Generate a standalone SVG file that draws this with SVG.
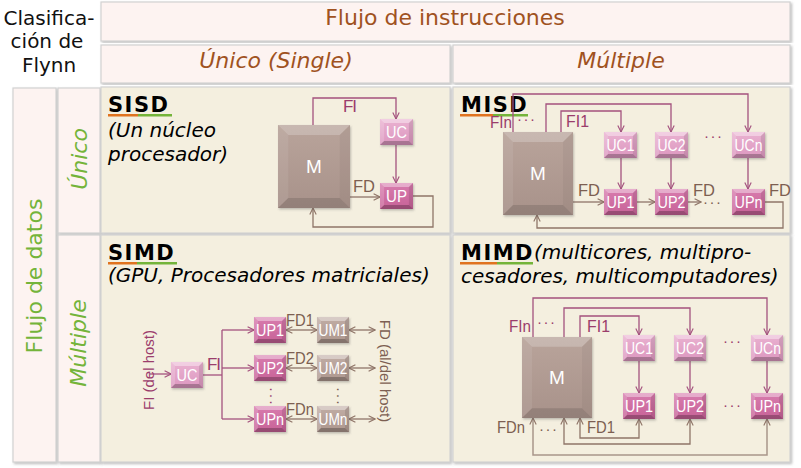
<svg xmlns="http://www.w3.org/2000/svg" xmlns:xlink="http://www.w3.org/1999/xlink" width="801" height="468" viewBox="0 0 801 468">
<style>
.cellH{fill:#fdf3f1;stroke:#d2d2d2;stroke-width:1.2}
.cellB{fill:#f4efdf;stroke:#d2d2d2;stroke-width:1.2}
.hdr{font-family:"DejaVu Sans",Verdana,sans-serif;font-size:22px;fill:#a0521f;text-anchor:middle}
.hdrI{font-style:italic}
.side{font-family:"DejaVu Sans",Verdana,sans-serif;font-size:22px;fill:#74b43a;text-anchor:middle}
.corner{font-family:"DejaVu Sans",Verdana,sans-serif;font-size:20px;fill:#111;text-anchor:middle}
.ttl{font-family:"DejaVu Sans",Verdana,sans-serif;font-size:21px;font-weight:bold;fill:#000;letter-spacing:1.5px}
.desc{font-family:"DejaVu Sans",Verdana,sans-serif;font-size:20px;font-style:italic;fill:#000}
.m{fill:url(#gM)}
.uc{fill:url(#gUC)}
.up{fill:url(#gUP)}
.um{fill:url(#gUM)}
.node rect{filter:url(#sh)}
.bt{font-family:"Liberation Sans",Arial,sans-serif;font-size:17px;fill:#fff;text-anchor:middle}
.mt{font-family:"Liberation Sans",Arial,sans-serif;font-size:19px;fill:#fff;text-anchor:middle}
.lab{font-family:"Liberation Sans",Arial,sans-serif;font-size:17px}
.dots{font-family:"Liberation Sans",Arial,sans-serif;font-size:15px;letter-spacing:1.5px}
.rot{font-size:15px}
.fi{fill:#9b3d6c}
.fd{fill:#7d5f52}
.ci{fill:none;stroke:#a4527e;stroke-width:1.3}
.cd{fill:none;stroke:#8f7568;stroke-width:1.3}
.cdl{fill:none;stroke:#a8968b;stroke-width:1.5}
.ai{marker-end:url(#am)}
.ad{marker-end:url(#ab)}
.a2{marker-start:url(#ab);marker-end:url(#ab)}
</style>
<defs>
<filter id="sh" x="-20%" y="-20%" width="150%" height="150%"><feDropShadow dx="1" dy="1.5" stdDeviation="1" flood-color="#555" flood-opacity="0.35"/></filter>
<filter id="shc" x="-5%" y="-5%" width="110%" height="110%"><feDropShadow dx="1.5" dy="1.5" stdDeviation="0.8" flood-color="#888" flood-opacity="0.55"/></filter>
<linearGradient id="gM" x1="0" y1="0" x2="0" y2="1"><stop offset="0" stop-color="#b9a49b"/><stop offset="1" stop-color="#a8928a"/></linearGradient>
<linearGradient id="gUC" x1="0" y1="0" x2="0" y2="1"><stop offset="0" stop-color="#eab2d1"/><stop offset="1" stop-color="#dc97bf"/></linearGradient>
<linearGradient id="gUP" x1="0" y1="0" x2="0" y2="1"><stop offset="0" stop-color="#d87cae"/><stop offset="1" stop-color="#c76297"/></linearGradient>
<linearGradient id="gUM" x1="0" y1="0" x2="0" y2="1"><stop offset="0" stop-color="#c1ada5"/><stop offset="1" stop-color="#ad978e"/></linearGradient>
<symbol id="bv" viewBox="0 0 32 26" preserveAspectRatio="none">
<polygon points="0,0 32,0 28,4 4,4" fill="#fff" fill-opacity=".38"/>
<polygon points="0,0 4,4 4,22 0,26" fill="#fff" fill-opacity=".18"/>
<polygon points="32,0 32,26 28,22 28,4" fill="#000" fill-opacity=".1"/>
<polygon points="0,26 4,22 28,22 32,26" fill="#000" fill-opacity=".24"/>
</symbol>
<symbol id="bvM" viewBox="0 0 70 83" preserveAspectRatio="none">
<polygon points="0,0 70,0 60,10 10,10" fill="#fff" fill-opacity=".22"/>
<polygon points="0,0 10,10 10,73 0,83" fill="#fff" fill-opacity=".08"/>
<polygon points="70,0 70,83 60,73 60,10" fill="#000" fill-opacity=".04"/>
<polygon points="0,83 10,73 60,73 70,83" fill="#000" fill-opacity=".12"/>
</symbol>
<marker id="am" viewBox="0 0 10 10" refX="9" refY="5" markerWidth="8" markerHeight="8" markerUnits="userSpaceOnUse" orient="auto-start-reverse"><path d="M1,1 L9,5 L1,9" fill="none" stroke="#a4527e" stroke-width="1.4"/></marker>
<marker id="ab" viewBox="0 0 10 10" refX="9" refY="5" markerWidth="8" markerHeight="8" markerUnits="userSpaceOnUse" orient="auto-start-reverse"><path d="M1,1 L9,5 L1,9" fill="none" stroke="#8f7568" stroke-width="1.4"/></marker>
</defs>

<rect width="801" height="468" fill="#fff"/>

<g id="table">
<rect class="cellH" x="101" y="2" width="689" height="39" filter="url(#shc)"/>
<rect class="cellH" x="101" y="45" width="349" height="38" filter="url(#shc)"/>
<rect class="cellH" x="453" y="45" width="337" height="38" filter="url(#shc)"/>
<rect class="cellH" x="13" y="88" width="43" height="374" filter="url(#shc)"/>
<rect class="cellH" x="58" y="88" width="42" height="145" filter="url(#shc)"/>
<rect class="cellH" x="58" y="235" width="42" height="227" filter="url(#shc)"/>
<rect class="cellB" x="101" y="87" width="349" height="146" filter="url(#shc)"/>
<rect class="cellB" x="453" y="87" width="337" height="146" filter="url(#shc)"/>
<rect class="cellB" x="101" y="235" width="349" height="227" filter="url(#shc)"/>
<rect class="cellB" x="453" y="235" width="337" height="227" filter="url(#shc)"/>
<text class="corner" x="49" y="25">Clasifica-</text>
<text class="corner" x="47" y="48">ción de</text>
<text class="corner" x="49" y="72">Flynn</text>
<text class="hdr" x="445" y="25">Flujo de instrucciones</text>
<text class="hdr hdrI" x="276" y="68">Único (Single)</text>
<text class="hdr hdrI" x="621" y="68">Múltiple</text>
<text class="side" transform="translate(42,276) rotate(-90)">Flujo de datos</text>
<text class="side hdrI" transform="translate(87,159) rotate(-90)">Único</text>
<text class="side hdrI" transform="translate(86,343) rotate(-90)">Múltiple</text>
</g>

<g id="titles">
<text class="ttl" x="108" y="112">SISD</text>
<rect x="108" y="114" width="30" height="2.5" fill="#e0731f"/><rect x="138" y="114" width="34" height="2.5" fill="#74b43a"/>
<text class="desc" x="108" y="137">(Un núcleo</text>
<text class="desc" x="108" y="161">procesador)</text>
<text class="ttl" x="461" y="112">MISD</text>
<rect x="460" y="114" width="33" height="2.5" fill="#e0731f"/><rect x="493" y="114" width="35" height="2.5" fill="#74b43a"/>
<text class="ttl" x="108" y="260">SIMD</text>
<rect x="108" y="262" width="29" height="2.5" fill="#e0731f"/><rect x="137" y="262" width="40" height="2.5" fill="#74b43a"/>
<text class="desc" x="108" y="282">(GPU, Procesadores matriciales)</text>
<text class="ttl" x="461" y="260">MIMD</text>
<rect x="460" y="262" width="37" height="2.5" fill="#e0731f"/><rect x="497" y="262" width="36" height="2.5" fill="#74b43a"/>
<text class="desc" x="534" y="259">(multicores, multipro-</text>
<text class="desc" x="461" y="283">cesadores, multicomputadores)</text>
</g>

<g id="connectors">
<path class="ci ai" d="M313,125 V98 H396 V119"/>
<path class="ci ai" d="M396,145 V183"/>
<path class="cd ad" d="M350,197 H380"/>
<path class="cd ad" d="M413,196 H433 V227 H313 V208"/>
<path class="ci ai" d="M513,132 V94 H748 V132"/>
<path class="ci ai" d="M546,132 V104 H671 V132"/>
<path class="ci ai" d="M561,132 V111 H621 V132"/>
<path class="ci ai" d="M621,158 V189"/>
<path class="ci ai" d="M671,158 V189"/>
<path class="ci ai" d="M748,158 V189"/>
<path class="cd ad" d="M573,202 H604"/>
<path class="cd ad" d="M637,202 H655"/>
<path class="cd ad" d="M688,202 H701"/>
<path class="cd ad" d="M765,202 H783 V228 H537 V215"/>
<path class="ci ai" d="M150,374 H171"/>
<path class="ci" d="M203,375 H222"/>
<path class="ci" d="M222,330 V419"/>
<path class="ci ai" d="M222,330 H254"/>
<path class="ci ai" d="M222,368 H254"/>
<path class="ci ai" d="M222,419 H254"/>
<path class="cd a2" d="M286,330 H317"/>
<path class="cd a2" d="M286,368 H317"/>
<path class="cd a2" d="M286,419 H317"/>
<path class="cd a2" d="M349,330 H375"/>
<path class="cd a2" d="M349,368 H375"/>
<path class="cd a2" d="M349,419 H375"/>
<path class="ci ai" d="M533,337 V298 H767 V335"/>
<path class="ci ai" d="M564,337 V308 H690 V335"/>
<path class="ci ai" d="M580,337 V316 H639 V335"/>
<path class="ci ai" d="M639,361 V393"/>
<path class="ci ai" d="M690,361 V393"/>
<path class="ci ai" d="M767,361 V393"/>
<path class="cd a2" d="M639,419 V438 H580 V418"/>
<path class="cd a2" d="M690,419 V444 H564 V418"/>
<path class="cdl a2" d="M767,419 V455 H533 V418"/>
</g>

<g id="labels">
<text class="lab fi" x="343" y="112" textLength="14" lengthAdjust="spacing">FI</text>
<text class="lab fd" x="353" y="192" textLength="22" lengthAdjust="spacingAndGlyphs">FD</text>
<text class="lab fi" x="490" y="128" textLength="22" lengthAdjust="spacingAndGlyphs">FIn</text>
<text class="dots fi" x="517" y="124">···</text>
<text class="lab fi" x="566" y="127" textLength="23" lengthAdjust="spacingAndGlyphs">FI1</text>
<text class="lab fd" x="578" y="196" textLength="22" lengthAdjust="spacingAndGlyphs">FD</text>
<text class="lab fd" x="693" y="196" textLength="22" lengthAdjust="spacingAndGlyphs">FD</text>
<text class="dots fd" x="703" y="207">···</text>
<text class="lab fd" x="769" y="196" textLength="22" lengthAdjust="spacingAndGlyphs">FD</text>
<text class="dots fi" x="704" y="141">···</text>
<text class="lab fi" x="207" y="370" textLength="14" lengthAdjust="spacing">FI</text>
<text class="lab fi rot" transform="translate(154,370) rotate(-90)" text-anchor="middle">FI (del host)</text>
<text class="lab fd" x="286" y="326" textLength="28" lengthAdjust="spacingAndGlyphs">FD1</text>
<text class="lab fd" x="286" y="364" textLength="28" lengthAdjust="spacingAndGlyphs">FD2</text>
<text class="lab fd" x="286" y="415" textLength="28" lengthAdjust="spacingAndGlyphs">FDn</text>
<text class="lab fd rot" transform="translate(380,371) rotate(90)" text-anchor="middle">FD (al/del host)</text>
<text class="dots fi" transform="translate(267,387) rotate(90)">···</text>
<text class="dots fd" transform="translate(334,387) rotate(90)">···</text>
<text class="lab fi" x="509" y="332" textLength="22" lengthAdjust="spacingAndGlyphs">FIn</text>
<text class="dots fi" x="537" y="327">···</text>
<text class="lab fi" x="587" y="332" textLength="23" lengthAdjust="spacingAndGlyphs">FI1</text>
<text class="dots fi" x="723" y="346">···</text>
<text class="dots fi" x="723" y="410">···</text>
<text class="lab fd" x="497" y="433" textLength="28" lengthAdjust="spacingAndGlyphs">FDn</text>
<text class="dots fd" x="539" y="434">···</text>
<text class="lab fd" x="587" y="433" textLength="28" lengthAdjust="spacingAndGlyphs">FD1</text>
</g>

<g id="sisd-M" class="node"><rect class="m" x="278" y="125" width="72" height="83"/><use href="#bvM" x="278" y="125" width="72" height="83"/><text class="mt" x="314" y="173">M</text></g>
<g id="sisd-UC" class="node"><rect class="uc" x="380" y="119" width="33" height="26"/><use href="#bv" x="380" y="119" width="33" height="26"/><text class="bt" x="396.5" y="138" textLength="21" lengthAdjust="spacingAndGlyphs">UC</text></g>
<g id="sisd-UP" class="node"><rect class="up" x="380" y="183" width="33" height="26"/><use href="#bv" x="380" y="183" width="33" height="26"/><text class="bt" x="396.5" y="202" textLength="21" lengthAdjust="spacingAndGlyphs">UP</text></g>

<g id="misd-M" class="node"><rect class="m" x="503" y="132" width="70" height="83"/><use href="#bvM" x="503" y="132" width="70" height="83"/><text class="mt" x="538" y="180">M</text></g>
<g id="misd-UC1" class="node"><rect class="uc" x="604" y="132" width="33" height="26"/><use href="#bv" x="604" y="132" width="33" height="26"/><text class="bt" x="620.5" y="151" textLength="28" lengthAdjust="spacingAndGlyphs">UC1</text></g>
<g id="misd-UC2" class="node"><rect class="uc" x="655" y="132" width="33" height="26"/><use href="#bv" x="655" y="132" width="33" height="26"/><text class="bt" x="671.5" y="151" textLength="28" lengthAdjust="spacingAndGlyphs">UC2</text></g>
<g id="misd-UCn" class="node"><rect class="uc" x="732" y="132" width="33" height="26"/><use href="#bv" x="732" y="132" width="33" height="26"/><text class="bt" x="748.5" y="151" textLength="28" lengthAdjust="spacingAndGlyphs">UCn</text></g>
<g id="misd-UP1" class="node"><rect class="up" x="604" y="189" width="33" height="26"/><use href="#bv" x="604" y="189" width="33" height="26"/><text class="bt" x="620.5" y="208" textLength="28" lengthAdjust="spacingAndGlyphs">UP1</text></g>
<g id="misd-UP2" class="node"><rect class="up" x="655" y="189" width="33" height="26"/><use href="#bv" x="655" y="189" width="33" height="26"/><text class="bt" x="671.5" y="208" textLength="28" lengthAdjust="spacingAndGlyphs">UP2</text></g>
<g id="misd-UPn" class="node"><rect class="up" x="732" y="189" width="33" height="26"/><use href="#bv" x="732" y="189" width="33" height="26"/><text class="bt" x="748.5" y="208" textLength="28" lengthAdjust="spacingAndGlyphs">UPn</text></g>

<g id="simd-UC" class="node"><rect class="uc" x="171" y="362" width="32" height="26"/><use href="#bv" x="171" y="362" width="32" height="26"/><text class="bt" x="187" y="381" textLength="21" lengthAdjust="spacingAndGlyphs">UC</text></g>
<g id="simd-UP1" class="node"><rect class="up" x="254" y="317" width="32" height="26"/><use href="#bv" x="254" y="317" width="32" height="26"/><text class="bt" x="270" y="336" textLength="28" lengthAdjust="spacingAndGlyphs">UP1</text></g>
<g id="simd-UP2" class="node"><rect class="up" x="254" y="355" width="32" height="26"/><use href="#bv" x="254" y="355" width="32" height="26"/><text class="bt" x="270" y="374" textLength="28" lengthAdjust="spacingAndGlyphs">UP2</text></g>
<g id="simd-UPn" class="node"><rect class="up" x="254" y="406" width="32" height="26"/><use href="#bv" x="254" y="406" width="32" height="26"/><text class="bt" x="270" y="425" textLength="28" lengthAdjust="spacingAndGlyphs">UPn</text></g>
<g id="simd-UM1" class="node"><rect class="um" x="317" y="317" width="32" height="26"/><use href="#bv" x="317" y="317" width="32" height="26"/><text class="bt" x="333" y="336" textLength="29" lengthAdjust="spacingAndGlyphs">UM1</text></g>
<g id="simd-UM2" class="node"><rect class="um" x="317" y="355" width="32" height="26"/><use href="#bv" x="317" y="355" width="32" height="26"/><text class="bt" x="333" y="374" textLength="29" lengthAdjust="spacingAndGlyphs">UM2</text></g>
<g id="simd-UMn" class="node"><rect class="um" x="317" y="406" width="32" height="26"/><use href="#bv" x="317" y="406" width="32" height="26"/><text class="bt" x="333" y="425" textLength="29" lengthAdjust="spacingAndGlyphs">UMn</text></g>

<g id="mimd-M" class="node"><rect class="m" x="522" y="337" width="70" height="81"/><use href="#bvM" x="522" y="337" width="70" height="81"/><text class="mt" x="557" y="384">M</text></g>
<g id="mimd-UC1" class="node"><rect class="uc" x="623" y="335" width="32" height="26"/><use href="#bv" x="623" y="335" width="32" height="26"/><text class="bt" x="639" y="354" textLength="28" lengthAdjust="spacingAndGlyphs">UC1</text></g>
<g id="mimd-UC2" class="node"><rect class="uc" x="674" y="335" width="32" height="26"/><use href="#bv" x="674" y="335" width="32" height="26"/><text class="bt" x="690" y="354" textLength="28" lengthAdjust="spacingAndGlyphs">UC2</text></g>
<g id="mimd-UCn" class="node"><rect class="uc" x="751" y="335" width="32" height="26"/><use href="#bv" x="751" y="335" width="32" height="26"/><text class="bt" x="767" y="354" textLength="28" lengthAdjust="spacingAndGlyphs">UCn</text></g>
<g id="mimd-UP1" class="node"><rect class="up" x="623" y="393" width="32" height="26"/><use href="#bv" x="623" y="393" width="32" height="26"/><text class="bt" x="639" y="412" textLength="28" lengthAdjust="spacingAndGlyphs">UP1</text></g>
<g id="mimd-UP2" class="node"><rect class="up" x="674" y="393" width="32" height="26"/><use href="#bv" x="674" y="393" width="32" height="26"/><text class="bt" x="690" y="412" textLength="28" lengthAdjust="spacingAndGlyphs">UP2</text></g>
<g id="mimd-UPn" class="node"><rect class="up" x="751" y="393" width="32" height="26"/><use href="#bv" x="751" y="393" width="32" height="26"/><text class="bt" x="767" y="412" textLength="28" lengthAdjust="spacingAndGlyphs">UPn</text></g>
</svg>
